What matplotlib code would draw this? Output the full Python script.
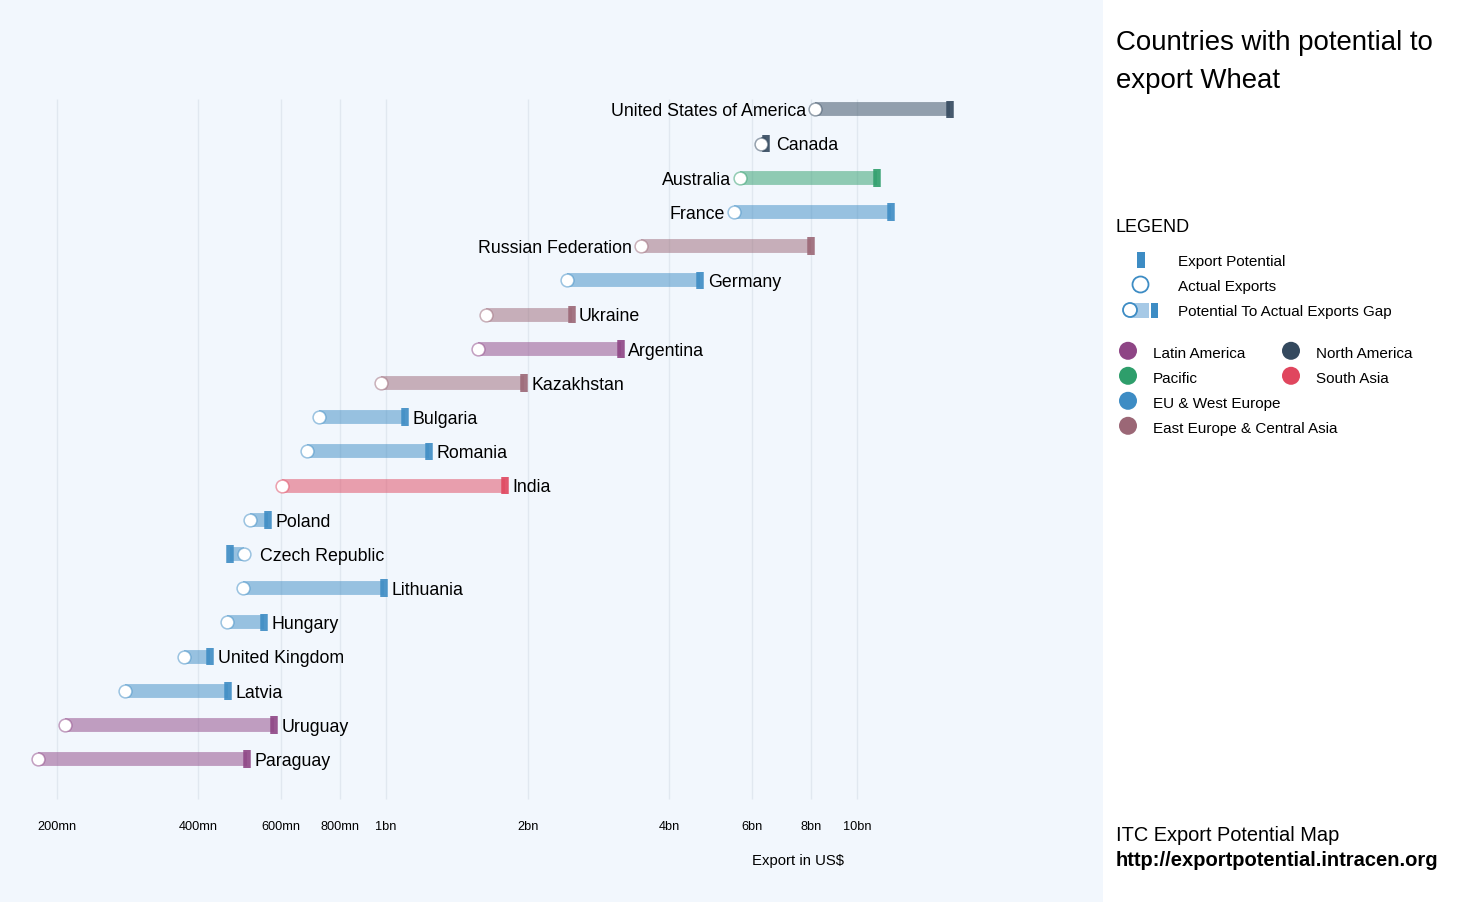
import matplotlib

matplotlib.use("Agg")
import matplotlib.pyplot as plt
from matplotlib.colors import to_rgba
from matplotlib.patches import Circle, Rectangle

plt.rcParams["font.family"] = ["Liberation Sans", "DejaVu Sans"]

countries = [
    "United States of America", "Canada", "Australia", "France", "Russian Federation",
    "Germany", "Ukraine", "Argentina", "Kazakhstan", "Bulgaria", "Romania", "India",
    "Poland", "Czech Republic", "Lithuania", "Hungary", "United Kingdom", "Latvia",
    "Uruguay", "Paraguay",
]
# values in US$ bn
actual = [8.14, 6.25, 5.64, 5.48, 3.48, 2.43, 1.63, 1.57, 0.976, 0.721,
          0.680, 0.601, 0.514, 0.499, 0.497, 0.460, 0.3725, 0.279, 0.208, 0.1825]
potential = [15.76, 6.41, 11.03, 11.81, 8.0, 4.65, 2.48, 3.15, 1.963, 1.097,
             1.234, 1.79, 0.562, 0.468, 0.990, 0.551, 0.424, 0.463, 0.578, 0.508]
regions = ["na", "na", "pac", "eu", "east", "eu", "east", "lat", "east", "eu",
           "eu", "sa", "eu", "eu", "eu", "eu", "eu", "eu", "lat", "lat"]
label_left = ["United States of America", "Australia", "France", "Russian Federation"]
label_pad = {"Canada": 7.5, "Czech Republic": 11.7}

tick_values = [0.2, 0.4, 0.6, 0.8, 1, 2, 4, 6, 8, 10]
tick_labels = ["200mn", "400mn", "600mn", "800mn", "1bn", "2bn", "4bn", "6bn", "8bn", "10bn"]

region_colors = {
    "lat": "#8E4585", "na": "#34495E", "pac": "#2E9E6B", "eu": "#3D8CC4",
    "east": "#9B6776", "sa": "#E0465E",
}
legend_regions = [
    ("Latin America", "lat", 1128, 351), ("Pacific", "pac", 1128, 376),
    ("EU & West Europe", "eu", 1128, 401), ("East Europe & Central Asia", "east", 1128, 426),
    ("North America", "na", 1291, 351), ("South Asia", "sa", 1291, 376),
]

W, H = 1479, 903
PANEL = 1103
BG = "#F2F7FD"
TEXT = "#000000"

fig = plt.figure(figsize=(W / 100, H / 100), dpi=100, facecolor="white")

# chart panel, log scale: 1bn at px 386, 471 px per decade
ax = fig.add_axes([0, 0, PANEL / W, 1], facecolor=BG)
ax.set_xscale("log")
ax.set_xlim(10 ** ((0 - 385.8) / 471), 10 ** ((PANEL - 385.8) / 471))
row = 34.2
ax.set_ylim((H - 110.4) / row, -110.4 / row)
ax.axis("off")
ax.add_patch(Rectangle((0, 0), 1, 1, transform=ax.transAxes, color=BG, zorder=0))

top, bottom = (100 - 110) / row, (800 - 110) / row
ax.vlines(tick_values, top, bottom, color="#E1E8F0", lw=1, zorder=1)
for v, lab in zip(tick_values, tick_labels):
    ax.annotate(lab, (v, 0), xycoords=("data", "axes fraction"), xytext=(0, (H - 827) * 0.72),
                textcoords="offset points", ha="center", va="center", fontsize=9.2, color=TEXT)

for i, name in enumerate(countries):
    col = region_colors[regions[i]]
    ax.hlines(i, actual[i], potential[i], color=col, alpha=0.5, lw=10, zorder=2)
    ax.vlines(potential[i], i - 0.26, i + 0.26, color=col, alpha=0.9, lw=5.4, zorder=3)
    ax.plot(actual[i], i, "o", ms=9.2, mfc="white", mec=to_rgba(col, 0.5), mew=1.1, zorder=4)
    if name in label_left:
        ax.annotate(name, (actual[i], i), xytext=(-6.5, -1), textcoords="offset points",
                    ha="right", va="center", fontsize=12.75, color=TEXT)
    else:
        anchor = max(actual[i], potential[i])
        ax.annotate(name, (anchor, i), xytext=(label_pad.get(name, 5.4), -1), textcoords="offset points",
                    ha="left", va="center", fontsize=12.75, color=TEXT)

ax.annotate("Export in US$", (798 / PANEL, 0), xycoords="axes fraction",
            xytext=(0, (H - 861) * 0.72), textcoords="offset points",
            ha="center", va="center", fontsize=10.7, color=TEXT)

# side panel in pixel coordinates
side = fig.add_axes([0, 0, 1, 1], facecolor="none")
side.set_xlim(0, W)
side.set_ylim(H, 0)
side.axis("off")

side.text(1115.6, 43, "Countries with potential to", fontsize=19.9, va="center", color=TEXT)
side.text(1115.6, 81, "export Wheat", fontsize=19.9, va="center", color=TEXT)
side.text(1115.6, 228, "LEGEND", fontsize=13, va="center", color=TEXT)

blue = region_colors["eu"]
side.add_patch(Rectangle((1136.5, 252.5), 8, 16, color=blue, lw=0))
side.add_patch(Circle((1140.5, 285.5), 8, fc="white", ec=blue, lw=1.3))
side.add_patch(Rectangle((1130, 303.5), 19, 15, color="#A6C9E6", lw=0))
side.add_patch(Rectangle((1151, 303.5), 7, 15, color=blue, lw=0))
side.add_patch(Circle((1130, 311), 7, fc="white", ec=blue, lw=1.3, zorder=3))
for label, y in (("Export Potential", 262), ("Actual Exports", 287),
                 ("Potential To Actual Exports Gap", 312)):
    side.text(1178, y, label, fontsize=10.95, va="center", color=TEXT)

for label, key, cx, cy in legend_regions:
    side.add_patch(Circle((cx, cy + 0.8), 9, color=region_colors[key], lw=0))
    side.text(cx + 25, cy + 3.5, label, fontsize=10.95, va="center", color=TEXT)

side.text(1115.5, 835.5, "ITC Export Potential Map", fontsize=14.4, va="center", color=TEXT)
side.text(1115.5, 860.5, "http://exportpotential.intracen.org", fontsize=14.5, va="center",
          fontweight="bold", color=TEXT)

fig.savefig("out.png", dpi=100, facecolor="white")
plt.close(fig)
